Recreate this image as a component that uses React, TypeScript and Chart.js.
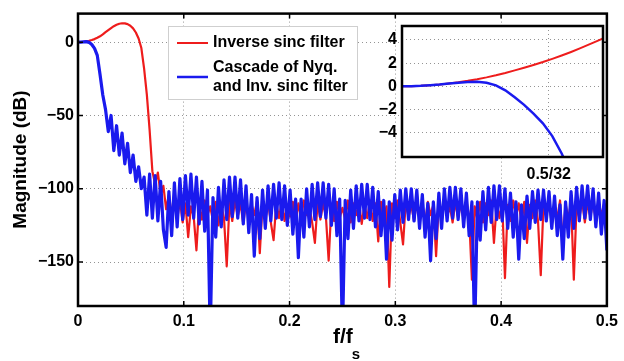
import React, { useEffect, useRef } from 'react';
import { Chart, registerables } from 'chart.js';

Chart.register(...registerables);

const FONT = '"Liberation Sans", Arial, Helvetica, sans-serif';
const RED = '#ee1c1c';
const BLUE = '#1a1aee';
const GRID = 'rgba(0,0,0,0.42)';

// normalised frequency grid f/fs (1/384 spacing, 0 .. 0.5)
const FREQ = Array.from({ length: 193 }, (_, i) => i / 384);

const X_TICKS = [0, 0.1, 0.2, 0.3, 0.4, 0.5];
const Y_TICKS = [-150, -100, -50, 0];

// Inverse sinc filter (dB)
const RED_PASS = [
  0, 0.1, 0.3, 0.6, 1.0, 1.5, 2.1, 3.0, 4.0, 5.3, 6.8, 8.2, 9.6, 10.9, 11.9, 12.6,
  12.9, 12.8, 12.3, 11.2, 9.4, 6.6, 2.5, -4, -18, -36, -60, -88, -97,
];
const RED_STOP = [
  -89, -104, -98, -114, -104, -118, -106, -121, -108, -123, -110, -133, -112, -119, -142, -110,
  -121, -108, -118, -112, -122, -109, -125, -111, -120, -153, -109, -122, -108, -119, -110, -124,
  -109, -121, -111, -118, -108, -144, -110, -121, -109, -123, -135, -110, -120, -108, -122, -111,
  -119, -109, -124, -110, -120, -108, -118, -112, -123, -137, -109, -121, -110, -119, -149, -111,
  -122, -109, -120, -113, -121, -108, -123, -110, -118, -109, -124, -111, -120, -108, -122, -110,
  -136, -109, -121, -112, -167, -110, -120, -108, -123, -138, -109, -119, -111, -122, -108, -120,
  -110, -124, -109, -118, -111, -146, -110, -121, -108, -119, -112, -123, -109, -120, -110, -122,
  -108, -119, -162, -112, -121, -109, -123, -110, -118, -108, -137, -110, -120, -109, -161, -111,
  -122, -108, -119, -110, -123, -109, -137, -111, -120, -108, -122, -159, -110, -119, -109, -124,
  -111, -120, -108, -137, -110, -121, -109, -162, -111, -120, -108, -123, -110, -119, -109, -122,
  -111, -118, -110, -116,
];

// Cascade of Nyquist and inverse sinc filter (dB)
const BLUE_PASS = [
  0, 0.1, 0.25, 0.39, -0.1, -1.6, -4.2, -9, -22, -36,
  -46, -61, -50, -74, -57, -77, -62, -83, -69, -89, -77, -95, -85, -100, -92,
  -118, -90, -120, -91, -122, -95, -128, -140,
];
const BLUE_HUMP_2 = [-102, -132, -96, -126, -93, -121, -91, -118, -90, -120, -92, -124, -95, -129, -101, -200];
const BLUE_HUMP_3 = [-106, -133, -99, -126, -94, -121, -92, -119, -92, -120, -94, -124, -98, -130, -104, -146];
const BLUE_HUMP_4 = [-106, -134, -101, -127, -98, -122, -97, -120, -96, -121, -98, -125, -101, -131, -107, -147];
const BLUE_HUMP_5 = [-107, -133, -100, -126, -97, -121, -96, -119, -96, -120, -97, -125, -100, -132, -107, -200];
const BLUE_HUMP_6 = [-108, -134, -101, -127, -98, -122, -97, -120, -97, -121, -99, -126, -102, -132, -108, -148];
const BLUE_HUMP_7 = [-109, -135, -104, -128, -101, -123, -100, -121, -100, -122, -101, -127, -104, -133, -110, -149];
const BLUE_HUMP_8 = [-109, -134, -103, -127, -100, -122, -99, -120, -99, -121, -100, -126, -103, -132, -109, -200];
const BLUE_HUMP_9 = [-109, -135, -102, -128, -99, -123, -98, -121, -98, -122, -100, -127, -103, -133, -109, -148];
const BLUE_HUMP_10 = [-111, -134, -105, -127, -102, -123, -101, -121, -101, -122, -102, -127, -105, -132, -111, -148];
const BLUE_HUMP_11 = [-109, -133, -102, -127, -99, -122, -98, -120, -98, -121, -100, -126, -103, -131, -108, -142];

// inset (passband zoom)
const INSET_FREQ = [
  0, 0.001, 0.002, 0.003, 0.004, 0.005, 0.006, 0.007, 0.008, 0.009, 0.01, 0.011,
  0.012, 0.013, 0.014, 0.015, 0.016, 0.017, 0.018, 0.019, 0.02, 0.021, 0.0214,
];
const INSET_RED = [
  0, 0.01, 0.04, 0.09, 0.16, 0.25, 0.35, 0.47, 0.61, 0.77, 0.95, 1.15,
  1.37, 1.6, 1.84, 2.09, 2.36, 2.65, 2.96, 3.29, 3.63, 3.98, 4.12,
];
const INSET_BLUE = [
  0, 0.01, 0.04, 0.09, 0.15, 0.23, 0.31, 0.37, 0.39, 0.3, 0.08, -0.35,
  -0.95, -1.6, -2.35, -3.2, -4.3, -5.8, -7.6,
];
const INSET_X_TICKS = [0.5 / 32];
const INSET_Y_TICKS = [-4, -2, 0, 2, 4];

const LEGEND_RED = 'Inverse sinc filter';
const LEGEND_BLUE = ['Cascade of Nyq.', 'and Inv. sinc filter'];
const Y_TITLE = 'Magnitude (dB)';

const RED_ALL = [...RED_PASS, ...RED_STOP];
const BLUE_ALL = [
  ...BLUE_PASS, ...BLUE_HUMP_2, ...BLUE_HUMP_3, ...BLUE_HUMP_4, ...BLUE_HUMP_5,
  ...BLUE_HUMP_6, ...BLUE_HUMP_7, ...BLUE_HUMP_8, ...BLUE_HUMP_9, ...BLUE_HUMP_10, ...BLUE_HUMP_11,
];

const tickFont = { family: FONT, size: 16, weight: 'bold' as const };
const minus = (v: number) => (v < 0 ? '\u2212' + Math.abs(v) : String(v));

function drawFrame(chart: any, tickLen: number, xTicks: boolean) {
  const { ctx, chartArea: a, scales } = chart;
  ctx.save();
  ctx.strokeStyle = '#000';
  ctx.lineWidth = 1.5;
  ctx.beginPath();
  if (xTicks) {
    scales.x.ticks.forEach((t: any) => {
      const p = scales.x.getPixelForValue(t.value);
      ctx.moveTo(p, a.bottom); ctx.lineTo(p, a.bottom - tickLen);
      ctx.moveTo(p, a.top); ctx.lineTo(p, a.top + tickLen);
    });
    scales.y.ticks.forEach((t: any) => {
      const p = scales.y.getPixelForValue(t.value);
      ctx.moveTo(a.left, p); ctx.lineTo(a.left + tickLen, p);
      ctx.moveTo(a.right, p); ctx.lineTo(a.right - tickLen, p);
    });
  }
  ctx.stroke();
  ctx.lineWidth = 2.5;
  ctx.strokeRect(a.left, a.top, a.right - a.left, a.bottom - a.top);
  ctx.restore();
}

const mainPlugin = {
  id: 'mainDecor',
  beforeDraw(chart: any) {
    const { ctx, width, height } = chart;
    ctx.save();
    ctx.fillStyle = '#fff';
    ctx.fillRect(0, 0, width, height);
    ctx.restore();
  },
  afterDatasetsDraw(chart: any) {
    const { ctx } = chart;
    drawFrame(chart, 5, true);
    ctx.save();
    // legend
    ctx.fillStyle = '#fff';
    ctx.strokeStyle = '#cfcfcf';
    ctx.lineWidth = 1;
    ctx.fillRect(168.5, 26.5, 189, 73);
    ctx.strokeRect(168.5, 26.5, 189, 73);
    ctx.lineCap = 'butt';
    ctx.strokeStyle = RED;
    ctx.lineWidth = 2;
    ctx.beginPath(); ctx.moveTo(177, 43); ctx.lineTo(208, 43); ctx.stroke();
    ctx.strokeStyle = BLUE;
    ctx.lineWidth = 2.5;
    ctx.beginPath(); ctx.moveTo(177, 77); ctx.lineTo(208, 77); ctx.stroke();
    ctx.fillStyle = '#000';
    ctx.font = `bold 16px ${FONT}`;
    ctx.textAlign = 'left';
    ctx.textBaseline = 'middle';
    ctx.fillText(LEGEND_RED, 213, 43);
    ctx.fillText(LEGEND_BLUE[0], 213, 68);
    ctx.fillText(LEGEND_BLUE[1], 213, 87);
    // y title
    ctx.save();
    ctx.translate(21, 159.5);
    ctx.rotate(-Math.PI / 2);
    ctx.textAlign = 'center';
    ctx.font = `bold 19px ${FONT}`;
    ctx.fillText(Y_TITLE, 0, 0);
    ctx.restore();
    // x title f/f_s
    ctx.textBaseline = 'alphabetic';
    ctx.font = `bold 21px ${FONT}`;
    ctx.fillText('f/f', 333, 343);
    const w = ctx.measureText('f/f').width;
    ctx.font = `bold 15px ${FONT}`;
    ctx.fillText('s', 333 + w - 1, 359);
    ctx.restore();
  },
};

const insetPlugin = {
  id: 'insetDecor',
  beforeDraw(chart: any) {
    const { ctx, chartArea: a } = chart;
    ctx.save();
    ctx.fillStyle = '#fff';
    ctx.fillRect(a.left, a.top, a.right - a.left, a.bottom - a.top);
    ctx.restore();
  },
  afterDatasetsDraw(chart: any) {
    drawFrame(chart, 0, false);
  },
};

export default function App() {
  const mainRef = useRef<HTMLCanvasElement>(null);
  const insetRef = useRef<HTMLCanvasElement>(null);

  useEffect(() => {
    const main = new Chart(mainRef.current!, {
      type: 'line',
      data: {
        datasets: [
          {
            label: 'Cascade of Nyq. and Inv. sinc filter',
            data: BLUE_ALL.map((y, i) => ({ x: FREQ[i], y })),
            borderColor: BLUE,
            borderWidth: 3.2,
            pointRadius: 0,
            tension: 0,
            borderJoinStyle: 'round',
            order: 0,
          },
          {
            label: 'Inverse sinc filter',
            data: RED_ALL.map((y, i) => ({ x: FREQ[i], y })),
            borderColor: RED,
            borderWidth: 2.2,
            pointRadius: 0,
            tension: 0,
            borderJoinStyle: 'round',
            order: 1,
          },
        ],
      },
      options: {
        responsive: false,
        animation: false,
        devicePixelRatio: 1,
        layout: { padding: { left: 0, right: 11, top: 13, bottom: 0 } },
        plugins: { legend: { display: false }, tooltip: { enabled: false } },
        scales: {
          x: {
            type: 'linear',
            min: 0,
            max: 0.5,
            afterFit: (s: any) => { s.height = 55; },
            afterBuildTicks: (s: any) => { s.ticks = X_TICKS.map((v) => ({ value: v })); },
            ticks: {
              callback: (v: any) => (v === 0 ? '0' : Number(v).toFixed(1)),
              font: tickFont,
              color: '#000',
              padding: 6,
              maxRotation: 0,
              autoSkip: false,
            },
            grid: { color: GRID, drawTicks: false, lineWidth: 1 },
            border: { display: false, dash: [1, 3] },
          },
          y: {
            type: 'linear',
            min: -180,
            max: 19.5,
            afterFit: (s: any) => { s.width = 78; },
            afterBuildTicks: (s: any) => { s.ticks = Y_TICKS.map((v) => ({ value: v })); },
            ticks: { callback: (v: any) => minus(Number(v)), font: tickFont, color: '#000', padding: 4 },
            grid: { color: GRID, drawTicks: false, lineWidth: 1 },
            border: { display: false, dash: [1, 3] },
          },
        },
      },
      plugins: [mainPlugin],
    } as any);

    const inset = new Chart(insetRef.current!, {
      type: 'line',
      data: {
        datasets: [
          {
            data: INSET_BLUE.map((y, i) => ({ x: INSET_FREQ[i], y })),
            borderColor: BLUE,
            borderWidth: 2.5,
            pointRadius: 0,
            tension: 0,
            order: 0,
          },
          {
            data: INSET_RED.map((y, i) => ({ x: INSET_FREQ[i], y })),
            borderColor: RED,
            borderWidth: 2,
            pointRadius: 0,
            tension: 0,
            order: 1,
          },
        ],
      },
      options: {
        responsive: false,
        animation: false,
        devicePixelRatio: 1,
        layout: { padding: { left: 0, right: 21, top: 26, bottom: 0 } },
        plugins: { legend: { display: false }, tooltip: { enabled: false } },
        scales: {
          x: {
            type: 'linear',
            min: 0,
            max: 0.0214,
            afterFit: (s: any) => { s.height = 204; },
            afterBuildTicks: (s: any) => { s.ticks = INSET_X_TICKS.map((v) => ({ value: v })); },
            ticks: { callback: () => '0.5/32', font: tickFont, color: '#000', padding: 8, maxRotation: 0, autoSkip: false },
            grid: { color: GRID, drawTicks: false, lineWidth: 1 },
            border: { display: false, dash: [1, 3] },
          },
          y: {
            type: 'linear',
            min: -6.1,
            max: 5.2,
            afterFit: (s: any) => { s.width = 402; },
            afterBuildTicks: (s: any) => { s.ticks = INSET_Y_TICKS.map((v) => ({ value: v })); },
            ticks: { callback: (v: any) => minus(Number(v)), font: tickFont, color: '#000', padding: 5 },
            grid: { color: GRID, drawTicks: false, lineWidth: 1 },
            border: { display: false, dash: [1, 3] },
          },
        },
      },
      plugins: [insetPlugin],
    } as any);

    return () => {
      main.destroy();
      inset.destroy();
    };
  }, []);

  return (
    <div style={{ position: 'fixed', left: 0, top: 0, width: 624, height: 361, background: '#fff' }}>
      <canvas ref={mainRef} width={624} height={361} style={{ position: 'absolute', left: 0, top: 0 }} />
      <canvas ref={insetRef} width={624} height={361} style={{ position: 'absolute', left: 0, top: 0 }} />
    </div>
  );
}
